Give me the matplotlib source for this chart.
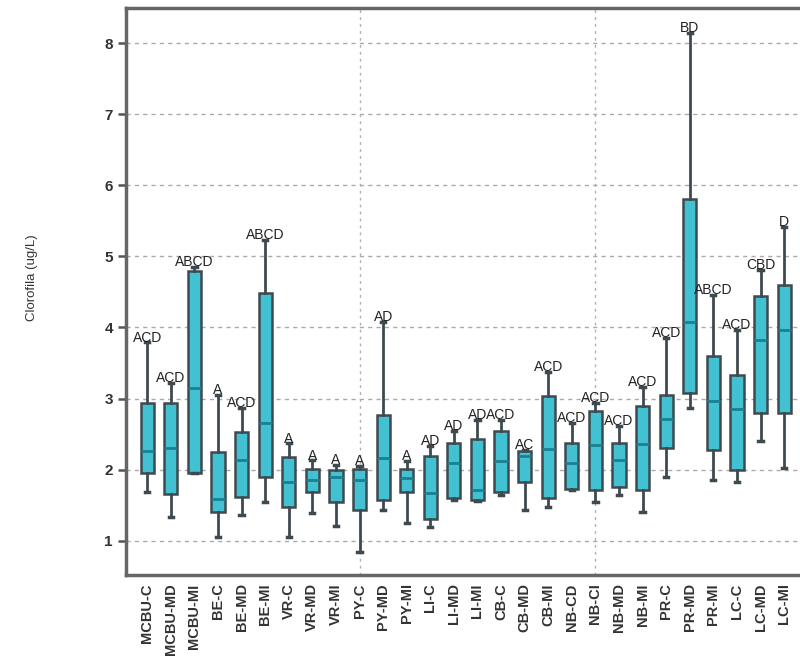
import matplotlib
matplotlib.use('Agg')
import matplotlib.pyplot as plt

# sampling sites / zones
sites = ['MCBU-C', 'MCBU-MD', 'MCBU-MI', 'BE-C', 'BE-MD', 'BE-MI', 'VR-C', 'VR-MD',
         'VR-MI', 'PY-C', 'PY-MD', 'PY-MI', 'LI-C', 'LI-MD', 'LI-MI', 'CB-C', 'CB-MD',
         'CB-MI', 'NB-CD', 'NB-CI', 'NB-MD', 'NB-MI', 'PR-C', 'PR-MD', 'PR-MI', 'LC-C',
         'LC-MD', 'LC-MI']

# box statistics, chlorophyll (ug/L)
whisker_low = [1.68, 1.33, 1.95, 1.06, 1.37, 1.54, 1.06, 1.39, 1.21, 0.85, 1.44, 1.25, 1.19, 1.58,
               1.56, 1.65, 1.44, 1.47, 1.71, 1.55, 1.65, 1.41, 1.90, 2.87, 1.86, 1.83, 2.41, 2.02]
q1 = [1.96, 1.66, 1.96, 1.41, 1.62, 1.90, 1.48, 1.69, 1.54, 1.43, 1.58, 1.68, 1.31, 1.60,
      1.57, 1.68, 1.83, 1.60, 1.73, 1.72, 1.76, 1.72, 2.30, 3.08, 2.28, 1.99, 2.80, 2.80]
median = [2.27, 2.30, 3.15, 1.59, 2.13, 2.66, 1.83, 1.86, 1.90, 1.86, 2.16, 1.88, 1.67, 2.09,
          1.72, 2.12, 2.19, 2.29, 2.10, 2.35, 2.14, 2.36, 2.71, 4.08, 2.97, 2.85, 3.82, 3.97]
q3 = [2.94, 2.94, 4.79, 2.25, 2.53, 4.48, 2.18, 2.01, 2.00, 2.01, 2.77, 2.01, 2.19, 2.37,
      2.43, 2.55, 2.27, 3.03, 2.37, 2.82, 2.37, 2.89, 3.05, 5.81, 3.60, 3.33, 4.44, 4.60]
whisker_high = [3.79, 3.22, 4.85, 3.05, 2.87, 5.23, 2.37, 2.13, 2.07, 2.05, 4.08, 2.12, 2.33, 2.54,
                2.70, 2.70, 2.28, 3.38, 2.66, 2.94, 2.61, 3.17, 3.85, 8.14, 4.46, 3.96, 4.81, 5.42]

# post-hoc group letters
groups = ['ACD', 'ACD', 'ABCD', 'A', 'ACD', 'ABCD', 'A', 'A', 'A', 'A', 'AD', 'A', 'AD', 'AD',
          'AD', 'ACD', 'AC', 'ACD', 'ACD', 'ACD', 'ACD', 'ACD', 'ACD', 'BD', 'ABCD', 'ACD',
          'CBD', 'D']

stats = []
for i in range(len(sites)):
    stats.append({'label': sites[i], 'whislo': whisker_low[i], 'q1': q1[i], 'med': median[i],
                  'q3': q3[i], 'whishi': whisker_high[i], 'fliers': []})

plt.rcParams['font.family'] = ['Liberation Sans', 'DejaVu Sans']

fig = plt.figure(figsize=(8, 6.7), dpi=100)
# axes run past the right edge of the figure
ax = fig.add_axes([0.1575, 0.1418, 0.861, 0.846])

edge = '#3e4a4f'
positions = list(range(1, len(sites) + 1))
ax.bxp(stats, positions=positions, widths=0.56, patch_artist=True, showfliers=False,
       boxprops=dict(facecolor='#41c1d2', edgecolor=edge, linewidth=1.8),
       medianprops=dict(color='#1d7f8f', linewidth=2),
       whiskerprops=dict(color=edge, linewidth=2),
       capprops=dict(color=edge, linewidth=2.5),
       capwidths=0.18)

for pos, top, txt in zip(positions, whisker_high, groups):
    ax.text(pos, top - 0.03, txt, ha='center', va='bottom', fontsize=10, color='#222222')

ax.set_xlim(0.1, 29.3)
ax.set_ylim(0.52, 8.49)
ax.set_yticks(range(1, 9))
ax.set_xticks(positions)
ax.set_xticklabels(sites, rotation=90, fontsize=10.5, fontweight='bold', color='#333333')
ax.xaxis.remove_overlapping_locs = False
ax.set_xticks([10, 20], minor=True)
ax.tick_params(axis='x', which='both', length=0, pad=6)
ax.tick_params(axis='y', length=6, width=1.8, color='#555555', labelsize=11, labelcolor='#333333')
for lbl in ax.get_yticklabels():
    lbl.set_fontweight('bold')

ax.grid(axis='y', which='major', linestyle=(0, (3, 3)), color='#aaaaaa', linewidth=1)
ax.grid(axis='x', which='major', visible=False)
ax.grid(axis='x', which='minor', linestyle=(0, (2, 3)), color='#b0b0b0', linewidth=1)
ax.set_axisbelow(True)

for side in ['left', 'bottom', 'top', 'right']:
    ax.spines[side].set_color('#666666')
    ax.spines[side].set_linewidth(2.5)

fig.text(0.04, 0.585, 'Clorofila (ug/L)', rotation=90, ha='center', va='center',
         fontsize=9.5, color='#333333')

fig.savefig('out.png', dpi=100)
